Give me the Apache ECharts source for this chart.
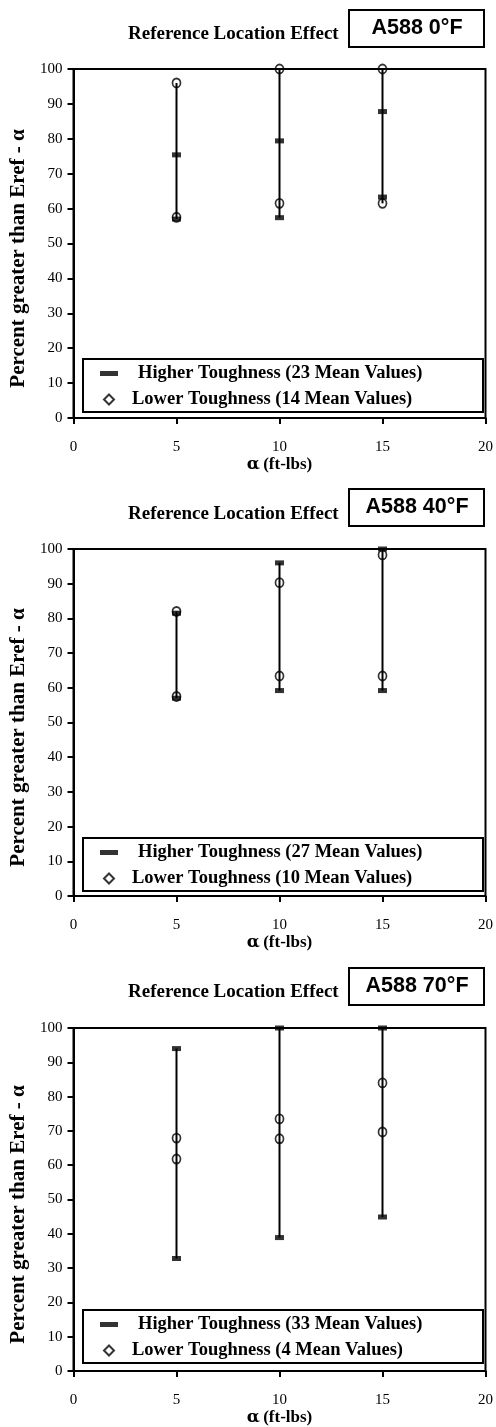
<!DOCTYPE html>
<html>
<head>
<meta charset="utf-8">
<script src="https://cdn.jsdelivr.net/npm/echarts@6.0.0/dist/echarts.min.js"></script>
<style>
html,body{margin:0;padding:0;background:#fff;}
#chart{width:496px;height:1427px;}
</style>
</head>
<body>
<div id="chart"></div>
<script>
// ---- data ----
const alphaX = [5, 5, 10, 10, 15, 15];
const hi0F  = [75.4, 57.0, 79.4, 57.4, 87.8, 63.3];
const lo0F  = [96.0, 57.5, 100, 61.5, 100, 61.5];
const hi40F = [81.5, 57.0, 96.0, 59.2, 100, 59.2];
const lo40F = [82.0, 57.5, 90.3, 63.4, 98.3, 63.4];
const hi70F = [94.0, 32.8, 100, 38.9, 100, 44.9];
const lo70F = [67.9, 61.8, 73.5, 67.7, 84.0, 69.7];
const panelLabels = ['A588 0°F', 'A588 40°F', 'A588 70°F'];
const hiCounts = [23, 27, 33];
const loCounts = [14, 10, 4];
const chartTitle = 'Reference Location Effect';
const yTitle = 'Percent greater than Eref - α';

const hiSets = [hi0F, hi40F, hi70F];
const loSets = [lo0F, lo40F, lo70F];

// ---- layout ----
const gridTops = [69, 549, 1028];
const gridHeights = [349, 347, 343];
const titleCenters = [33, 513, 991];
const boxTops = [9, 488, 967];
const legendTops = [358, 837, 1309];

const serif = '"Liberation Serif", "Times New Roman", serif';
const sans = '"Liberation Sans", Arial, sans-serif';

const chart = echarts.init(document.getElementById('chart'), null, {renderer: 'canvas'});

const option = {
  backgroundColor: '#fff',
  animation: false,
  title: [], grid: [], xAxis: [], yAxis: [], series: [], legend: [], graphic: []
};

function pairs(vals) { return vals.map((v, i) => [alphaX[i], v]); }

function ranges(a, b) {
  const xs = [...new Set(alphaX)];
  return xs.map(x => {
    const v = [];
    alphaX.forEach((xx, i) => { if (xx === x) { v.push(a[i]); v.push(b[i]); } });
    return [x, Math.min(...v), Math.max(...v)];
  });
}

for (let p = 0; p < 3; p++) {
  const hiName = 'Higher Toughness (' + hiCounts[p] + ' Mean Values)';
  const loName = 'Lower Toughness (' + loCounts[p] + ' Mean Values)';

  option.title.push({
    text: chartTitle,
    left: 128, top: titleCenters[p] - 8,
    padding: 0,
    textStyle: {fontFamily: serif, fontWeight: 'bold', fontSize: 19, color: '#000'}
  });

  option.graphic.push({
    type: 'group', left: 348, top: boxTops[p],
    children: [
      {type: 'rect', shape: {x: 0, y: 0, width: 135, height: 37},
       style: {fill: '#fff', stroke: '#000', lineWidth: 2}},
      {type: 'text', x: 68, y: 18,
       style: {text: panelLabels[p], textAlign: 'center', textVerticalAlign: 'middle',
               font: 'bold 21.5px ' + sans, fill: '#000'}}
    ]
  });

  option.graphic.push({
    type: 'rect', left: 82, top: legendTops[p], z: 5,
    shape: {x: 0, y: 0, width: 400, height: 53},
    style: {fill: '#fff', stroke: '#000', lineWidth: 2}
  });

  option.grid.push({
    left: 73.5, right: 10, top: gridTops[p], height: gridHeights[p],
    show: true, borderColor: '#000', borderWidth: 2, backgroundColor: 'transparent'
  });

  option.xAxis.push({
    type: 'value', gridIndex: p, min: 0, max: 20, interval: 5,
    name: '{a|α} {b|(ft-lbs)}', nameLocation: 'middle', nameGap: 37,
    nameTextStyle: {
      color: '#000',
      rich: {
        a: {fontFamily: '"DejaVu Serif", serif', fontWeight: 'bold', fontSize: 17, color: '#000'},
        b: {fontFamily: serif, fontWeight: 'bold', fontSize: 17, color: '#000'}
      }
    },
    axisLine: {show: true, onZero: false, lineStyle: {color: '#000', width: 2}},
    axisTick: {show: true, inside: false, length: 6, lineStyle: {color: '#000', width: 2}},
    axisLabel: {fontFamily: serif, fontSize: 15, color: '#000', margin: 22},
    splitLine: {show: false}
  });

  option.yAxis.push({
    type: 'value', gridIndex: p, min: 0, max: 100, interval: 10,
    name: yTitle, nameLocation: 'middle', nameGap: 38,
    nameTextStyle: {fontFamily: serif, fontWeight: 'bold', fontSize: 21, color: '#000',
                    padding: [0, 30, 0, 0]},
    axisLine: {show: true, lineStyle: {color: '#000', width: 2}},
    axisTick: {show: true, inside: false, length: 6, lineStyle: {color: '#000', width: 2}},
    axisLabel: {fontFamily: serif, fontSize: 15, color: '#000', margin: 11},
    splitLine: {show: false}
  });

  option.series.push({
    type: 'custom', name: 'range' + p, xAxisIndex: p, yAxisIndex: p,
    data: ranges(hiSets[p], loSets[p]),
    encode: {x: 0, y: [1, 2]},
    z: 2,
    renderItem: function (params, api) {
      const a = api.coord([api.value(0), api.value(1)]);
      const b = api.coord([api.value(0), api.value(2)]);
      return {type: 'line', shape: {x1: a[0], y1: a[1], x2: b[0], y2: b[1]},
              style: {stroke: '#000', lineWidth: 2}};
    }
  });

  option.series.push({
    type: 'scatter', name: hiName, xAxisIndex: p, yAxisIndex: p,
    data: pairs(hiSets[p]),
    symbol: 'rect', symbolSize: [9, 5], z: 3,
    itemStyle: {color: '#000'}
  });

  option.series.push({
    type: 'scatter', name: loName, xAxisIndex: p, yAxisIndex: p,
    data: pairs(loSets[p]),
    symbol: 'circle', symbolSize: [8, 9], z: 4,
    itemStyle: {color: 'rgba(0,0,0,0)', borderColor: '#000', borderWidth: 1.8}
  });

  option.legend.push({
    left: 100, top: legendTops[p] + 6, orient: 'vertical', padding: 0,
    itemWidth: 18, itemHeight: 10, itemGap: 7, z: 10,
    selectedMode: false, symbolKeepAspect: true,
    data: [
      {name: hiName, icon: 'path://M0,0h18v5h-18z', itemStyle: {color: '#000', borderWidth: 0}},
      {name: loName, icon: 'path://M5,0L10,5L5,10L0,5Z',
       itemStyle: {color: '#fff', borderColor: '#000', borderWidth: 2}}
    ],
    formatter: function (name) {
      return (name.indexOf('Higher') === 0 ? '{h|' : '{l|') + name + '}';
    },
    textStyle: {
      fontFamily: serif, fontWeight: 'bold', fontSize: 18.5, color: '#000',
      rich: {
        h: {fontFamily: serif, fontWeight: 'bold', fontSize: 18.5, color: '#000', padding: [0, 0, 0, 15]},
        l: {fontFamily: serif, fontWeight: 'bold', fontSize: 18.5, color: '#000', padding: [0, 0, 0, 9]}
      }
    }
  });
}

chart.setOption(option);
</script>
</body>
</html>
